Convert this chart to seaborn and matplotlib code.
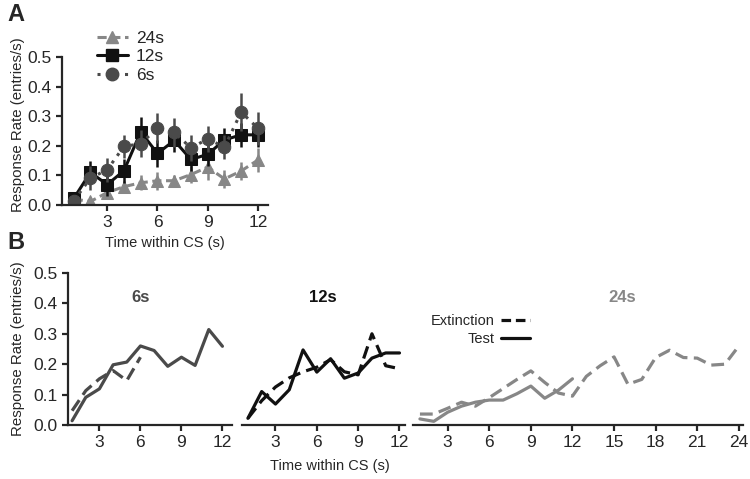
import matplotlib
matplotlib.use("Agg")
import matplotlib.pyplot as plt
from matplotlib.lines import Line2D
import seaborn as sns

# ----------------------------------------------------------------------------
# Data
time_12 = [1, 2, 3, 4, 5, 6, 7, 8, 9, 10, 11, 12]
time_24 = [1, 2, 3, 4, 5, 6, 7, 8, 9, 10, 11, 12,
           13, 14, 15, 16, 17, 18, 19, 20, 21, 22, 23, 24]
time_6 = [1, 2, 3, 4, 5, 6]

# Panel A: test sessions (mean and SEM)
test_24s = [0.020, 0.012, 0.042, 0.062, 0.075, 0.082, 0.082, 0.103, 0.128, 0.088, 0.115, 0.152]
sem_24s = [0.010, 0.015, 0.020, 0.020, 0.025, 0.030, 0.020, 0.030, 0.045, 0.030, 0.030, 0.040]
test_12s = [0.022, 0.110, 0.069, 0.116, 0.247, 0.174, 0.218, 0.154, 0.171, 0.220, 0.237, 0.237]
sem_12s = [0.010, 0.040, 0.040, 0.040, 0.050, 0.045, 0.040, 0.040, 0.040, 0.040, 0.040, 0.040]
test_6s = [0.014, 0.091, 0.119, 0.198, 0.207, 0.260, 0.245, 0.193, 0.223, 0.196, 0.314, 0.259]
sem_6s = [0.010, 0.040, 0.040, 0.040, 0.045, 0.050, 0.050, 0.045, 0.045, 0.040, 0.065, 0.055]

# Panel B: extinction sessions
ext_6s = [0.047, 0.113, 0.152, 0.179, 0.146, 0.223]
ext_12s = [0.022, 0.080, 0.125, 0.155, 0.175, 0.190, 0.215, 0.175, 0.165, 0.300, 0.195, 0.185]
ext_24s = [0.036, 0.036, 0.055, 0.075, 0.062, 0.090, 0.120, 0.150, 0.178, 0.140, 0.105, 0.095,
           0.160, 0.195, 0.224, 0.134, 0.150, 0.222, 0.246, 0.222, 0.220, 0.197, 0.200, 0.260]

c24 = "#878787"
c12 = "#111111"
c6 = "#4a4a4a"

# ----------------------------------------------------------------------------
sns.set_style("ticks")
plt.rcParams['font.family'] = ['Liberation Sans', 'DejaVu Sans']
plt.rcParams['axes.linewidth'] = 1.6
plt.rcParams['xtick.major.width'] = 1.6
plt.rcParams['ytick.major.width'] = 1.6
plt.rcParams['xtick.major.size'] = 4
plt.rcParams['ytick.major.size'] = 4
plt.rcParams['xtick.labelsize'] = 12.5
plt.rcParams['ytick.labelsize'] = 12.5

W, H = 750, 479
fig = plt.figure(figsize=(7.5, 4.79), dpi=100)


def px_axes(left, right, top, bottom):
    return fig.add_axes([left / W, 1 - bottom / H, (right - left) / W, (bottom - top) / H])


# ----------------------------------------------------------------------------
# Panel A
axA = px_axes(62, 268, 57, 205)
series = [
    (test_24s, sem_24s, c24, "^", (0, (3, 1.5)), "24s"),
    (test_12s, sem_12s, c12, "s", "-", "12s"),
    (test_6s, sem_6s, c6, "o", (0, (1, 2)), "6s"),
]
handles = []
for vals, err, col, mk, ls, lab in series:
    axA.errorbar(time_12, vals, yerr=err, fmt="none", ecolor=col, elinewidth=1.8, capsize=0)
    sns.lineplot(x=time_12, y=vals, ax=axA, color=col, marker=mk, markersize=9,
                 markeredgecolor=col, linewidth=2.2, linestyle=ls, label=lab)
    handles.append(Line2D([], [], color=col, marker=mk, markersize=9, linewidth=2.2,
                          linestyle=ls, label=lab))

axA.set_xlim(0.3, 12.6)
axA.set_ylim(0, 0.5)
axA.set_xticks([3, 6, 9, 12])
axA.set_yticks([0.0, 0.1, 0.2, 0.3, 0.4, 0.5])
axA.set_xlabel("Time within CS (s)", fontsize=10.5, labelpad=4)
axA.set_ylabel("Response Rate (entries/s)", fontsize=10.8)
axA.yaxis.set_label_coords((25 - 62) / 206, 0.54)
sns.despine(ax=axA)
axA.legend(handles=handles, loc="upper left", bbox_to_anchor=(88 / W, 1 - 22 / H),
           bbox_transform=fig.transFigure, frameon=False, fontsize=12.5,
           handlelength=1.8, labelspacing=0.2, handletextpad=0.45, borderpad=0)

fig.text(7 / W, 1 - 3 / H, "A", fontsize=17, fontweight="bold", va="top", ha="left")
fig.text(7 / W, 1 - 231 / H, "B", fontsize=17, fontweight="bold", va="top", ha="left")

# ----------------------------------------------------------------------------
# Panel B
top_b, bot_b = 273, 425
ax6 = px_axes(68, 232, top_b, bot_b)
ax12 = px_axes(242, 405, top_b, bot_b)
ax24 = px_axes(413, 743, top_b, bot_b)

sns.lineplot(x=time_6, y=ext_6s, ax=ax6, color=c6, linewidth=2.3, linestyle=(0, (4, 2)))
sns.lineplot(x=time_12, y=test_6s, ax=ax6, color=c6, linewidth=2.3)
sns.lineplot(x=time_12, y=ext_12s, ax=ax12, color=c12, linewidth=2.3, linestyle=(0, (4, 2)))
sns.lineplot(x=time_12, y=test_12s, ax=ax12, color=c12, linewidth=2.3)
sns.lineplot(x=time_24, y=ext_24s, ax=ax24, color=c24, linewidth=2.3, linestyle=(0, (4, 2)))
sns.lineplot(x=time_12, y=test_24s, ax=ax24, color=c24, linewidth=2.3)

for ax in (ax6, ax12, ax24):
    ax.set_ylim(0, 0.5)
    ax.set_xlabel("")
    ax.set_ylabel("")
ax6.set_xlim(0.7, 12.7)
ax12.set_xlim(0.57, 12.4)
ax24.set_xlim(0.5, 24.3)
ax6.set_xticks([3, 6, 9, 12])
ax12.set_xticks([3, 6, 9, 12])
ax24.set_xticks([3, 6, 9, 12, 15, 18, 21, 24])
ax6.set_yticks([0.0, 0.1, 0.2, 0.3, 0.4, 0.5])
ax6.set_ylabel("Response Rate (entries/s)", fontsize=10.8)
ax6.yaxis.set_label_coords((25 - 68) / 164, 0.5)
sns.despine(ax=ax6)
for ax in (ax12, ax24):
    sns.despine(ax=ax, left=True)
    ax.set_yticks([])

ax6.text(6, 0.42, "6s", color=c6, fontsize=12, fontweight="bold", ha="center", va="center")
ax12.text(6.4, 0.42, "12s", color=c12, fontsize=12, fontweight="bold", ha="center", va="center")
ax24.text(15.6, 0.42, "24s", color=c24, fontsize=12, fontweight="bold", ha="center", va="center")

leg_handles = [Line2D([], [], color="#111111", linewidth=2.3, linestyle=(0, (3, 1.5)), label="Extinction"),
               Line2D([], [], color="#111111", linewidth=2.3, linestyle="-", label="Test")]
ax24.legend(handles=leg_handles, loc="upper right", bbox_to_anchor=(537 / W, 1 - 307 / H),
            bbox_transform=fig.transFigure, frameon=False, fontsize=10.5, markerfirst=False,
            handlelength=2.0, labelspacing=0.25, handletextpad=0.4, borderpad=0)

fig.text(330 / W, 1 - 466 / H, "Time within CS (s)", fontsize=10.5, ha="center", va="center")

fig.savefig("out.png", dpi=100)
